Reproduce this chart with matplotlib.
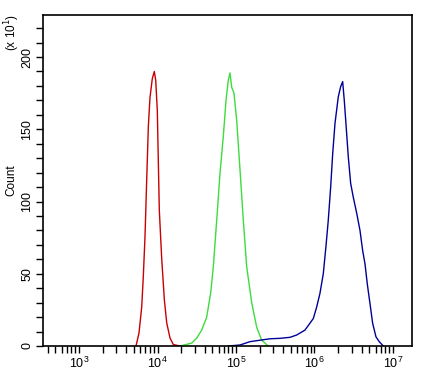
import matplotlib
matplotlib.use("Agg")
import matplotlib.pyplot as plt
from matplotlib.ticker import LogLocator, MultipleLocator, NullFormatter

plt.rcParams['font.family'] = ['Liberation Sans', 'DejaVu Sans']

# red peak (fluorescence, count/10)
red_x = [5321, 5807, 6290, 6590, 6930, 7280, 7640, 8020, 8580, 9100, 9480, 9940,
         10230, 10540, 11320, 12220, 13100, 14430, 15890, 19360]
red_y = [0, 9, 27, 48, 76, 115, 152, 172, 185, 190, 184, 163,
         129, 94, 60, 32, 16, 5.5, 1, 0]

# green peak
green_x = [19360, 27290, 31590, 36560, 42330, 47630, 51420, 56790, 62550, 68890,
           74610, 79830, 83880, 88150, 94330, 102100, 112500, 123900, 136800,
           158500, 183500, 212400, 257800]
green_y = [0, 2, 5.5, 11, 20, 37, 55, 87, 119.5, 145,
           170, 184, 189, 179, 175, 156, 122, 87, 55,
           30, 13, 4, 0]

# blue peak with low shoulder on the left
blue_x = [79830, 112500, 150700, 202100, 271000, 363700, 487700, 593200, 756300,
          966200, 1067000, 1175000, 1295000, 1401000, 1499000, 1608000, 1706000,
          1825000, 2011000, 2156000, 2287000, 2397000, 2518000, 2696000, 2892000,
          3121000, 3449000, 3800000, 4112000, 4399000, 4708000, 5093000, 5512000,
          6070000, 6687000, 7521000]
blue_y = [0, 0.7, 3, 4, 5, 5.3, 6, 7.6, 11,
          19, 27, 36.5, 50, 69, 87, 110, 133,
          154, 172.5, 179.5, 183, 170, 154, 131, 112.5,
          103, 92, 80, 66, 57, 43, 29.5, 15.7,
          6.4, 3, 0]

fig = plt.figure(figsize=(4.28, 3.76), dpi=100)
ax = fig.add_axes([0.1005, 0.0798, 0.862, 0.880])

ax.plot(red_x, red_y, color='#c80000', lw=1)
ax.plot(green_x, green_y, color='#3cdc3c', lw=1)
ax.plot(blue_x, blue_y, color='#000096', lw=1)

ax.set_xscale('log')
ax.set_xlim(10 ** 2.541, 10 ** 7.242)
ax.set_ylim(0, 229)

ax.xaxis.set_major_locator(LogLocator(base=10, numticks=10))
ax.xaxis.set_minor_locator(LogLocator(base=10, subs=range(2, 10), numticks=20))
ax.xaxis.set_minor_formatter(NullFormatter())
ax.yaxis.set_major_locator(MultipleLocator(50))
ax.yaxis.set_minor_locator(MultipleLocator(10))

ax.tick_params(which='both', direction='out', length=5, width=1, labelsize=9)
ax.tick_params(axis='y', labelrotation=90, pad=2)
for lab in ax.get_yticklabels():
    lab.set_va('center')
ax.tick_params(axis='x', pad=2)

for s in ax.spines.values():
    s.set_linewidth(1.2)

ax.set_ylabel('Count', fontsize=8.5, labelpad=3)
fig.text(12 / 428, 1 - 32 / 376, r'(x 10$^{1}$)', rotation=90, fontsize=8.5,
         ha='center', va='center')

fig.savefig('out.png', dpi=100)
